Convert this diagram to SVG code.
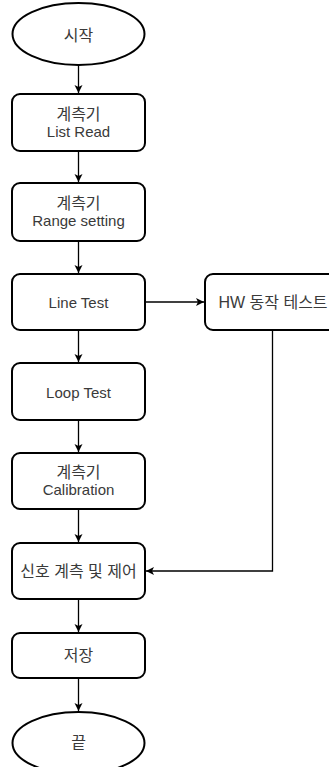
<svg xmlns="http://www.w3.org/2000/svg" width="329" height="767" viewBox="0 0 329 767">
<defs>
<style>
.n{fill:#fff;stroke:#000;stroke-width:2}
.t{font-family:"Liberation Sans","Noto Sans CJK KR",sans-serif;font-size:15px;fill:#3a3a3a;text-anchor:middle;dominant-baseline:central}
.k{font-size:16px}
.c{fill:none;stroke:#000;stroke-width:1.3}
</style>
<marker id="ah" markerWidth="10" markerHeight="10" refX="9" refY="5" orient="auto" markerUnits="userSpaceOnUse">
<path d="M1,1 L9,5 L1,9 L3,5 Z" fill="#000"/>
</marker>
</defs>
<rect width="329" height="767" fill="#fff"/>
<g id="connectors">
<path class="c" d="M78.5,65 V93" marker-end="url(#ah)"/>
<path class="c" d="M78.5,151 V182" marker-end="url(#ah)"/>
<path class="c" d="M78.5,241 V273" marker-end="url(#ah)"/>
<path class="c" d="M145,302 H204" marker-end="url(#ah)"/>
<path class="c" d="M78.5,330 V362" marker-end="url(#ah)"/>
<path class="c" d="M78.5,420 V452" marker-end="url(#ah)"/>
<path class="c" d="M78.5,509 V542" marker-end="url(#ah)"/>
<path class="c" d="M272.5,330 V571 H146" marker-end="url(#ah)"/>
<path class="c" d="M78.5,599 V632" marker-end="url(#ah)"/>
<path class="c" d="M78.5,678 V711" marker-end="url(#ah)"/>
</g>
<g id="start"><ellipse class="n" cx="78.5" cy="34" rx="66" ry="31"/><text class="t k" x="78.5" y="35">시작</text></g>
<g id="listread"><rect class="n" x="12" y="94" width="133" height="57" rx="8"/><text class="t k" x="78.5" y="114">계측기</text><text class="t" x="78.5" y="131.5">List Read</text></g>
<g id="range"><rect class="n" x="12" y="183" width="133" height="58" rx="8"/><text class="t k" x="78.5" y="203">계측기</text><text class="t" x="78.5" y="220.5">Range setting</text></g>
<g id="linetest"><rect class="n" x="12" y="274" width="133" height="56" rx="8"/><text class="t" x="78.5" y="302">Line Test</text></g>
<g id="hw"><rect class="n" x="205" y="274" width="133" height="56" rx="8"/><text class="t k" x="273" y="302">HW 동작 테스트</text></g>
<g id="looptest"><rect class="n" x="12" y="363" width="133" height="57" rx="8"/><text class="t" x="78.5" y="392">Loop Test</text></g>
<g id="calibration"><rect class="n" x="12" y="453" width="133" height="56" rx="8"/><text class="t k" x="78.5" y="472">계측기</text><text class="t" x="78.5" y="489.5">Calibration</text></g>
<g id="signal"><rect class="n" x="12" y="543" width="133" height="56" rx="8"/><text class="t k" x="78.5" y="571">신호 계측 및 제어</text></g>
<g id="save"><rect class="n" x="12" y="633" width="133" height="45" rx="8"/><text class="t k" x="78.5" y="655">저장</text></g>
<g id="end"><ellipse class="n" cx="78.5" cy="743" rx="66" ry="31"/><text class="t k" x="78.5" y="742">끝</text></g>
</svg>
